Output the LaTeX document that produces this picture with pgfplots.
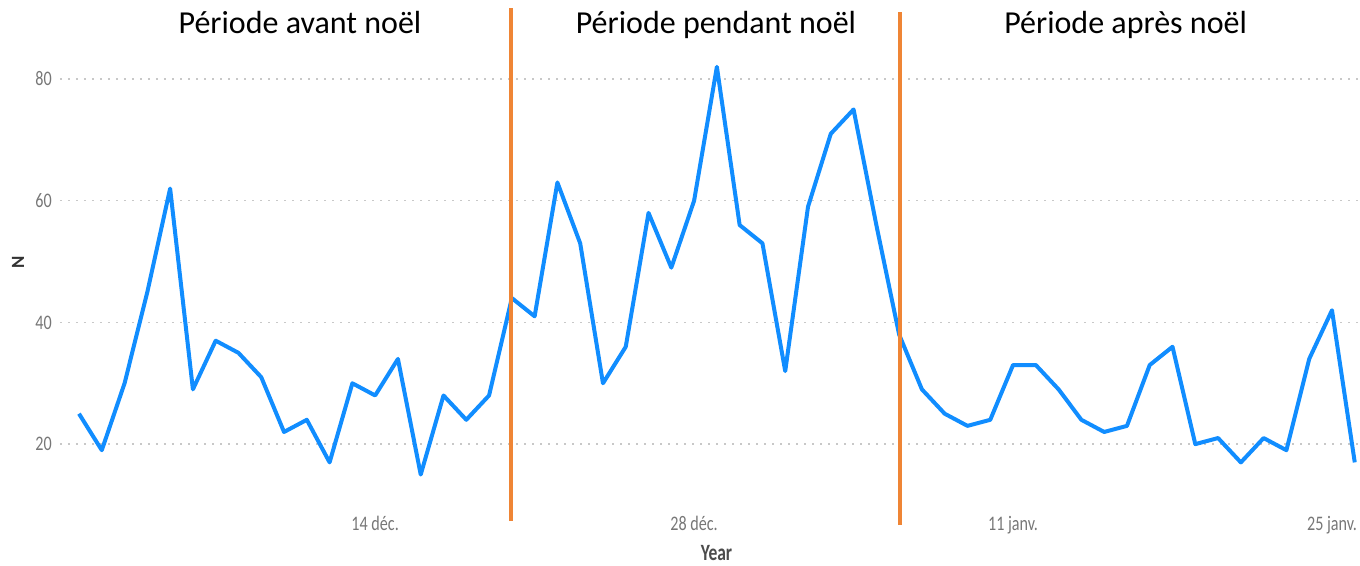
\documentclass[border=0pt]{standalone}
\usepackage{fontspec}
\setmainfont{Carlito}
\usepackage{graphicx}
\usepackage{pgfplots}
\pgfplotsset{compat=1.18}
\definecolor{pbiblue}{HTML}{118DFF}
\definecolor{pbiorange}{HTML}{EF8535}
\definecolor{ticklab}{HTML}{777777}
\definecolor{gridc}{HTML}{C8C8C8}
\newcommand{\sclab}[1]{\scalebox{0.78}[1]{#1}}
\begin{document}
\begin{tikzpicture}
\path[use as bounding box] (-45pt,-45.75pt) rectangle (975pt,378.75pt);
\begin{axis}[
  at={(0,0)}, anchor=south west,
  scale only axis,
  width=975pt, height=372.75pt,
  xmin=-0.834, xmax=56.23,
  ymin=10, ymax=91.67,
  clip=false,
  axis line style={draw=none},
  major tick length=0pt,
  xtick={13,27,41,55},
  xticklabels={\sclab{14 déc.},\sclab{28 déc.},\sclab{11 janv.},\sclab{25 janv.}},
  ytick={20,40,60,80},
  yticklabels={\sclab{20},\sclab{40},\sclab{60},\sclab{80}},
  xticklabel style={anchor=base, yshift=-19.5pt, font=\fontsize{15.5}{18}\selectfont, text=ticklab, inner sep=0pt},
  yticklabel style={anchor=east, xshift=-6pt, font=\fontsize{15.5}{18}\selectfont, text=ticklab, inner sep=0pt},
  ymajorgrids,
  y grid style={gridc, line width=1.1pt, dash pattern=on 1.2pt off 4.8pt},
  xlabel={\scalebox{0.75}[1]{\bfseries Year}},
  xlabel style={at={(axis description cs:0.505,0)}, anchor=base, yshift=-42pt, font=\fontsize{17.5}{20}\selectfont, text=black!70, inner sep=0pt},
  ylabel={\bfseries N},
  ylabel style={at={([xshift=-31.5pt]axis description cs:0,0.489)}, anchor=center, rotate=0, font=\fontsize{14}{16}\selectfont, text=black!80, inner sep=0pt},
]
\addplot[pbiblue, line width=3pt, line join=round, mark=none] coordinates {
(0,25)(1,19)(2,30)(3,45)(4,62)(5,29)(6,37)(7,35)(8,31)(9,22)
(10,24)(11,17)(12,30)(13,28)(14,34)(15,15)(16,28)(17,24)(18,28)(19,44)
(20,41)(21,63)(22,53)(23,30)(24,36)(25,58)(26,49)(27,60)(28,82)(29,56)
(30,53)(31,32)(32,59)(33,71)(34,75)(35,56)(36,38)(37,29)(38,25)(39,23)
(40,24)(41,33)(42,33)(43,29)(44,24)(45,22)(46,23)(47,33)(48,36)(49,20)
(50,21)(51,17)(52,21)(53,19)(54,34)(55,42)(56,17)
};
\addplot[pbiorange, line width=2.4pt, mark=none] coordinates {(18.96,7.35)(18.96,91.67)};
\addplot[pbiorange, line width=2.4pt, mark=none] coordinates {(36.04,6.69)(36.04,91.0)};
\node[anchor=base, font=\fontsize{24}{28}\selectfont, inner sep=0pt] at (axis cs:9.70,87.4) {Période avant noël};
\node[anchor=base, font=\fontsize{24}{28}\selectfont, inner sep=0pt] at (axis cs:27.96,87.4) {Période pendant noël};
\node[anchor=base, font=\fontsize{24}{28}\selectfont, inner sep=0pt] at (axis cs:45.94,87.4) {Période après noël};
\end{axis}
\end{tikzpicture}
\end{document}
